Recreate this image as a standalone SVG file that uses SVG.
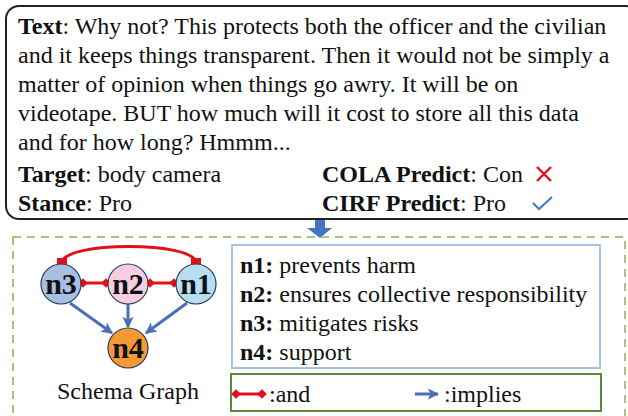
<svg xmlns="http://www.w3.org/2000/svg" width="628" height="416" viewBox="0 0 628 416">
  <style>
    .t { font-family: "Liberation Serif", "Times New Roman", serif; font-size: 24px; fill: #111; }
    .b { font-weight: bold; }
    .node { stroke: #2d3a55; stroke-width: 1.2; }
    .lbl { font-family: "Liberation Serif", "Times New Roman", serif; font-size: 30px; font-weight: bold; fill: #111; text-anchor: middle; }
    .and { stroke: #e3101c; stroke-width: 3; fill: none; }
    .imp { stroke: #4a6fb8; stroke-width: 3; fill: none; }
  </style>
  <defs>
    <marker id="dia" viewBox="0 0 10 10" refX="5" refY="5" markerWidth="3.2" markerHeight="3.2" markerUnits="strokeWidth" orient="auto">
      <path d="M0,5 L5,0 L10,5 L5,10 Z" fill="#e3101c"/>
    </marker>
    <marker id="sq" viewBox="0 0 10 10" refX="5" refY="5" markerWidth="3.4" markerHeight="3.4" markerUnits="strokeWidth" orient="auto">
      <rect width="10" height="10" fill="#e3101c"/>
    </marker>
    <marker id="arr" viewBox="0 0 10 10" refX="9" refY="5" markerWidth="3.8" markerHeight="3.8" markerUnits="strokeWidth" orient="auto">
      <path d="M0,0 L10,5 L0,10 L2.5,5 Z" fill="#4a6fb8"/>
    </marker>
  </defs>

  <!-- input text panel -->
  <g id="text-panel">
    <rect x="6" y="6" width="633" height="213" rx="13" fill="#fff" stroke="#222" stroke-width="2"/>
    <text class="t" x="18" y="34"><tspan class="b">Text</tspan>: Why not? This protects both the officer and the civilian</text>
    <text class="t" x="18" y="63">and it keeps things transparent. Then it would not be simply a</text>
    <text class="t" x="18" y="92">matter of opinion when things go awry. It will be on</text>
    <text class="t" x="18" y="121">videotape. BUT how much will it cost to store all this data</text>
    <text class="t" x="18" y="150">and for how long? Hmmm...</text>
    <text class="t" x="18" y="182"><tspan class="b">Target</tspan>: body camera</text>
    <text class="t" x="18" y="211"><tspan class="b">Stance</tspan>: Pro</text>
    <text class="t" x="322" y="182"><tspan class="b">COLA Predict</tspan>: Con</text>
    <text class="t" x="322" y="211"><tspan class="b">CIRF Predict</tspan>: Pro</text>
    <path d="M537,167 L551,181 M551,167 L537,181" stroke="#e3101c" stroke-width="2.4" fill="none"/>
    <path d="M533,203 L539,209 L552,197" stroke="#3b7ac8" stroke-width="2" fill="none"/>
  </g>

  <!-- down arrow -->
  <g id="down-arrow">
    <path d="M315,220 L325,220 L325,228 L332,228 L320,238 L307,228 L315,228 Z" fill="#4472c4"/>
  </g>

  <!-- schema panel -->
  <g id="schema-panel">
    <rect x="13" y="237" width="612" height="190" fill="none" stroke="#a9c47f" stroke-width="2" stroke-dasharray="8,6"/>
  </g>

  <!-- connectors -->
  <g id="connectors">
    <path class="and" d="M62,263 C62,241 196,241 196,263" marker-start="url(#sq)" marker-end="url(#sq)"/>
    <line class="and" x1="83" y1="283" x2="106" y2="283" marker-start="url(#dia)" marker-end="url(#dia)"/>
    <line class="and" x1="150" y1="283" x2="174" y2="283" marker-start="url(#dia)" marker-end="url(#dia)"/>
    <line class="imp" x1="70" y1="303" x2="112" y2="333" marker-end="url(#arr)"/>
    <line class="imp" x1="128" y1="304" x2="128" y2="327" marker-end="url(#arr)"/>
    <line class="imp" x1="187" y1="303" x2="146" y2="333" marker-end="url(#arr)"/>
  </g>

  <g id="n3">
    <circle class="node" cx="61" cy="284" r="20" fill="#a6bfe2"/>
    <text class="lbl" x="61" y="294">n3</text>
  </g>
  <g id="n2">
    <circle class="node" cx="128" cy="284" r="20" fill="#f6cde1"/>
    <text class="lbl" x="128" y="294">n2</text>
  </g>
  <g id="n1">
    <circle class="node" cx="196" cy="284" r="20" fill="#b6def0"/>
    <text class="lbl" x="196" y="294">n1</text>
  </g>
  <g id="n4">
    <circle class="node" cx="128" cy="348" r="20" fill="#f39a35"/>
    <text class="lbl" x="128" y="358">n4</text>
  </g>
  <text class="t" x="128" y="399" text-anchor="middle">Schema Graph</text>

  <!-- node descriptions -->
  <g id="definitions">
    <rect x="232" y="245" width="368" height="123" fill="#fff" stroke="#a9c4e2" stroke-width="2"/>
    <text class="t" x="240" y="273"><tspan class="b">n1:</tspan> prevents harm</text>
    <text class="t" x="240" y="302"><tspan class="b">n2:</tspan> ensures collective responsibility</text>
    <text class="t" x="240" y="331"><tspan class="b">n3:</tspan> mitigates risks</text>
    <text class="t" x="240" y="360"><tspan class="b">n4:</tspan> support</text>
  </g>

  <!-- legend -->
  <g id="legend">
    <rect x="231" y="374" width="370" height="37" fill="#fff" stroke="#5a8a3a" stroke-width="2"/>
    <line class="and" x1="236" y1="394" x2="262" y2="394" stroke-width="2.6" marker-start="url(#dia)" marker-end="url(#dia)"/>
    <text class="t" x="269" y="402">:and</text>
    <line class="imp" x1="415" y1="394" x2="438" y2="394" stroke-width="2.6" marker-end="url(#arr)"/>
    <text class="t" x="444" y="402">:implies</text>
  </g>
</svg>
